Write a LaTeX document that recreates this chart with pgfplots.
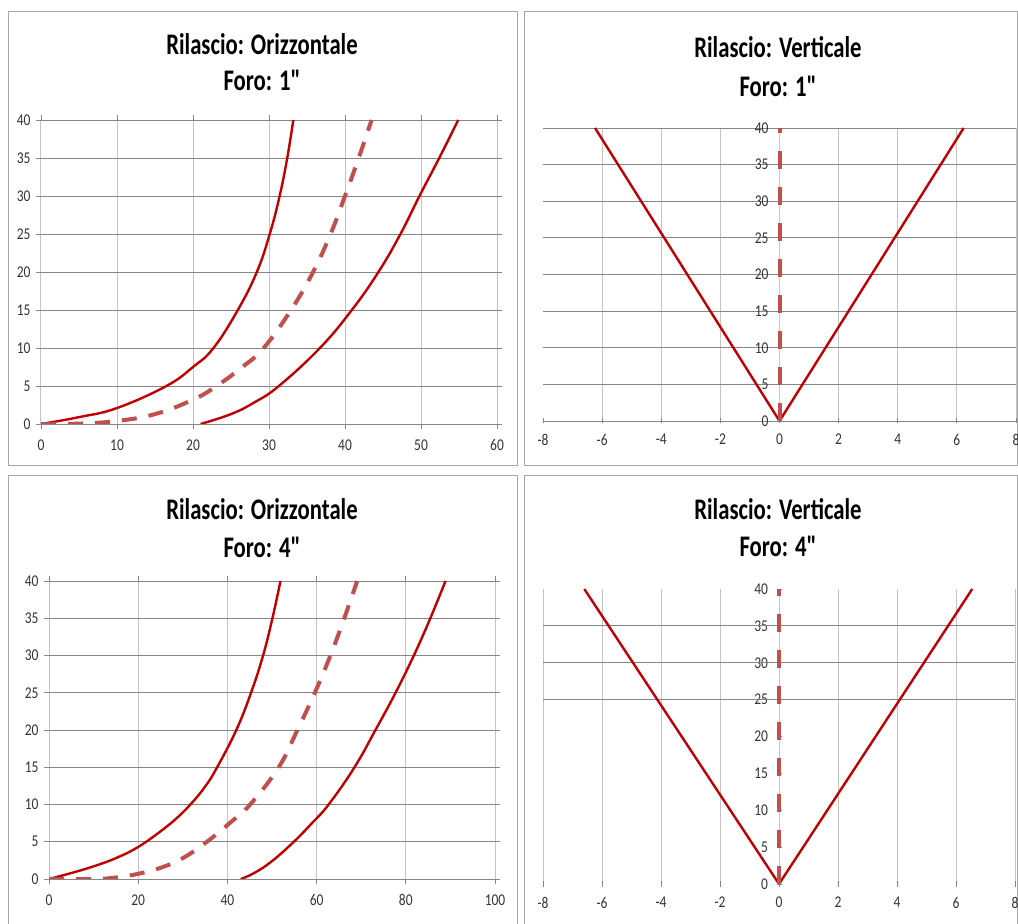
\documentclass[border=0pt]{standalone}
\usepackage{fontspec}
\setmainfont{Carlito}
\newfontfamily\titlefont[FakeStretch=0.76]{Carlito}
\newfontfamily\tickfont[FakeStretch=0.82]{Carlito}
\usepackage{pgfplots}
\pgfplotsset{compat=1.18}
\definecolor{solidred}{HTML}{C00000}
\definecolor{dashred}{HTML}{C0504D}
\definecolor{hgrid}{HTML}{868686}
\definecolor{vgrid}{HTML}{C4C4C4}
\definecolor{framec}{HTML}{A6A6A6}
\pgfplotsset{
  panel/.style={
    scale only axis, anchor=south west, clip=true,
    ymin=0, ymax=40, ytick={0,5,...,40},
    axis line style={draw=none},
    tick align=outside, major tick length=5bp,
    every tick/.style={hgrid, line width=0.8bp},
    x grid style={vgrid, line width=1bp},
    y grid style={hgrid, line width=0.9bp},
    /pgf/number format/assume math mode=true,
    ticklabel style={font=\tickfont\fontsize{16.5}{18}\selectfont, text=black!80},
    xticklabel style={yshift=-7bp},
    yticklabel style={xshift=-2bp},
  },
}
\tikzset{
  solidc/.style={solidred, line width=2.4bp, smooth, tension=0.7},
  dashc/.style={dashred, line width=4bp, dash pattern=on 15bp off 12bp, smooth, tension=0.7},
  titl/.style={font=\titlefont\bfseries\fontsize{30}{32}\selectfont, anchor=base},
}
\begin{document}
\begin{tikzpicture}
\useasboundingbox (0,0) rectangle (1018bp,924bp);
% frames
\draw[framec, line width=1bp] (8bp,458bp) rectangle (517bp,912bp);
\draw[framec, line width=1bp] (524bp,458bp) rectangle (1017.5bp,912bp);
\draw[framec, line width=1bp] (8bp,0bp) -- (8bp,448bp) -- (517bp,448bp) -- (517bp,0bp);
\draw[framec, line width=1bp] (524bp,0bp) -- (524bp,448bp) -- (1017.5bp,448bp) -- (1017.5bp,0bp);
% titles
\node[titl] at (262bp,869bp) {Rilascio: Orizzontale};
\node[titl] at (262bp,833bp) {Foro: 1"};
\node[titl] at (778bp,866bp) {Rilascio: Verticale};
\node[titl] at (778bp,827bp) {Foro: 1"};
\node[titl] at (262bp,404bp) {Rilascio: Orizzontale};
\node[titl] at (262bp,366bp) {Foro: 4"};
\node[titl] at (778bp,404bp) {Rilascio: Verticale};
\node[titl] at (778bp,367bp) {Foro: 4"};

% Panel 1
\begin{axis}[panel, at={(41bp,500bp)}, width=456bp, height=304bp,
  xmin=0, xmax=60, xtick={0,10,...,60}, xmajorgrids, ymajorgrids]
\addplot[solidc] coordinates {(0,0) (5,0.9) (10,2.1) (16.5,5) (20,7.5) (22.7,10) (25.9,15) (28.4,20) (30.1,25) (31.4,30) (32.4,35) (33.2,40)};
\addplot[dashc] coordinates {(0,0) (5,0.05) (10,0.4) (15,1.3) (20,3.2) (23.1,5) (26.5,7.5) (29.3,10) (32.9,15) (35.8,20) (38.1,25) (40.0,30) (41.8,35) (43.5,40)};
\addplot[solidc] coordinates {(21,0) (25,1.3) (28,2.8) (31.3,5) (36.7,10) (40.9,15) (44.4,20) (47.3,25) (49.8,30) (52.4,35) (54.9,40)};
\end{axis}

% Panel 2
\begin{axis}[panel, at={(543bp,503bp)}, width=473bp, height=293bp,
  xmin=-8, xmax=8, xtick={-6,-4,...,8}, extra x ticks={-8}, extra x tick style={grid=none},
  axis y line=center, axis x line=bottom, hide obscured x ticks=false, hide obscured y ticks=false,
  yticklabel style={xshift=-3bp},
  xmajorgrids, ymajorgrids]
\addplot[solidred, line width=2.4bp] coordinates {(-6.24,40) (0,0) (6.23,40)};
\addplot[dashred, line width=4bp, dash pattern=on 18bp off 18bp] coordinates {(0,0) (0,40)};
\end{axis}

% Panel 3
\begin{axis}[panel, at={(49bp,45bp)}, width=446bp, height=298bp,
  xmin=0, xmax=100, xtick={0,20,...,100}, xmajorgrids, ymajorgrids]
\addplot[solidc] coordinates {(0,0) (5,0.8) (10,1.7) (15,2.8) (20,4.3) (25,6.4) (28.5,8.1) (31.7,10) (35,12.4) (37.7,15) (42,20) (45.3,25) (48,30) (50.1,35) (51.9,40)};
\addplot[dashc] coordinates {(0,0) (10,0) (15,0.2) (20,0.7) (25,1.5) (30,2.8) (35.4,5) (40.5,7.5) (45.1,10) (51.5,15) (55.7,20) (59.6,25) (63.1,30) (66.2,35) (69.1,40)};
\addplot[solidc] coordinates {(43,0) (46,0.8) (50,2.4) (54.9,5) (58.8,7.4) (62.7,10) (68.5,15) (73.2,20) (77.7,25) (81.8,30) (85.5,35) (88.9,40)};
\end{axis}

% Panel 4
\begin{axis}[panel, at={(543bp,40bp)}, width=472bp, height=295bp,
  xmin=-8, xmax=8, xtick={-8,-6,...,8},
  axis y line=center, axis x line=bottom, hide obscured x ticks=false, hide obscured y ticks=false,
  yticklabel style={xshift=-3bp},
  xmajorgrids, extra y ticks={25,30,35}, extra y tick labels={}, extra y tick style={grid=major, major tick length=0pt}]
\addplot[solidred, line width=2.4bp] coordinates {(-6.6,40) (0,0) (6.55,40)};
\addplot[dashred, line width=4bp, dash pattern=on 18bp off 18bp] coordinates {(0,0) (0,40)};
\end{axis}
\end{tikzpicture}
\end{document}
